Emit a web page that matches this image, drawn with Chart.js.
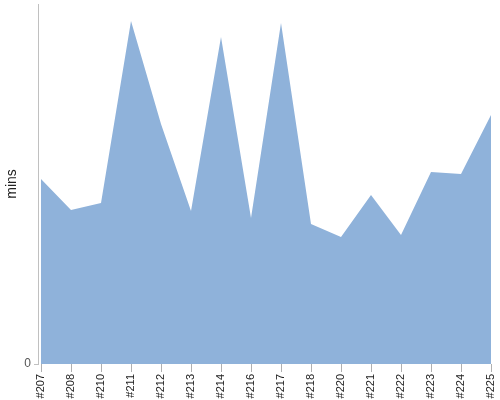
<!DOCTYPE html>
<html>
<head>
<meta charset="utf-8">
<script src="https://cdn.jsdelivr.net/npm/chart.js@4/dist/chart.umd.min.js"></script>
<style>
  html, body { margin: 0; padding: 0; background: #fff; }
  #wrap { width: 500px; height: 400px; }
</style>
</head>
<body>
<div id="wrap"><canvas id="c" width="500" height="400"></canvas></div>
<script>
const categories = ['#207', '#208', '#210', '#211', '#212', '#213', '#214', '#216', '#217', '#218', '#220', '#221', '#222', '#223', '#224', '#225'];
const minsValues = [185, 154, 161, 343, 240, 153, 327, 146, 341, 140, 127, 169, 129, 192, 190, 249];
const yTickValues = [0];
const yMax = 360;

const points = minsValues.map((v, i) => ({ x: i, y: v }));

function zeroPad(s) { s.paddingTop = 0; s.paddingBottom = 0; s.paddingLeft = 0; s.paddingRight = 0; }

new Chart(document.getElementById('c'), {
  type: 'line',
  data: {
    datasets: [{
      label: 'mins',
      data: points,
      fill: 'origin',
      backgroundColor: '#8fb2da',
      borderColor: 'rgba(0,0,0,0)',
      borderWidth: 0,
      pointRadius: 0,
      tension: 0
    }]
  },
  options: {
    responsive: false,
    animation: false,
    layout: { padding: { left: 0, right: 9, top: 4, bottom: 0 } },
    plugins: { legend: { display: false }, tooltip: { enabled: false } },
    scales: {
      x: {
        type: 'linear',
        min: -0.1,
        max: 15,
        afterBuildTicks: (s) => { s.ticks = categories.map((_, i) => ({ value: i })); },
        afterFit: (s) => { s.height = 36; zeroPad(s); },
        border: { display: false },
        grid: { drawOnChartArea: false, drawTicks: true, tickLength: 8, color: '#b0b0b0' },
        ticks: {
          autoSkip: false,
          minRotation: 90,
          maxRotation: 90,
          padding: 2,
          color: '#222',
          font: { family: 'Liberation Sans, Arial, sans-serif', size: 11 },
          callback: (v) => categories[v]
        }
      },
      y: {
        min: 0,
        max: yMax,
        afterBuildTicks: (s) => { s.ticks = yTickValues.map(v => ({ value: v })); },
        afterFit: (s) => { s.width = 38; zeroPad(s); },
        border: { display: true, color: '#c0c0c0', width: 1 },
        grid: { drawOnChartArea: false, drawTicks: true, tickLength: 4, color: '#c0c0c0' },
        ticks: {
          padding: 3,
          color: '#555',
          font: { family: 'Liberation Sans, Arial, sans-serif', size: 12 }
        },
        title: {
          display: true,
          text: 'mins',
          color: '#222',
          font: { family: 'Liberation Sans, Arial, sans-serif', size: 14 },
          padding: { top: 4, bottom: 4 }
        }
      }
    }
  }
});
</script>
</body>
</html>
